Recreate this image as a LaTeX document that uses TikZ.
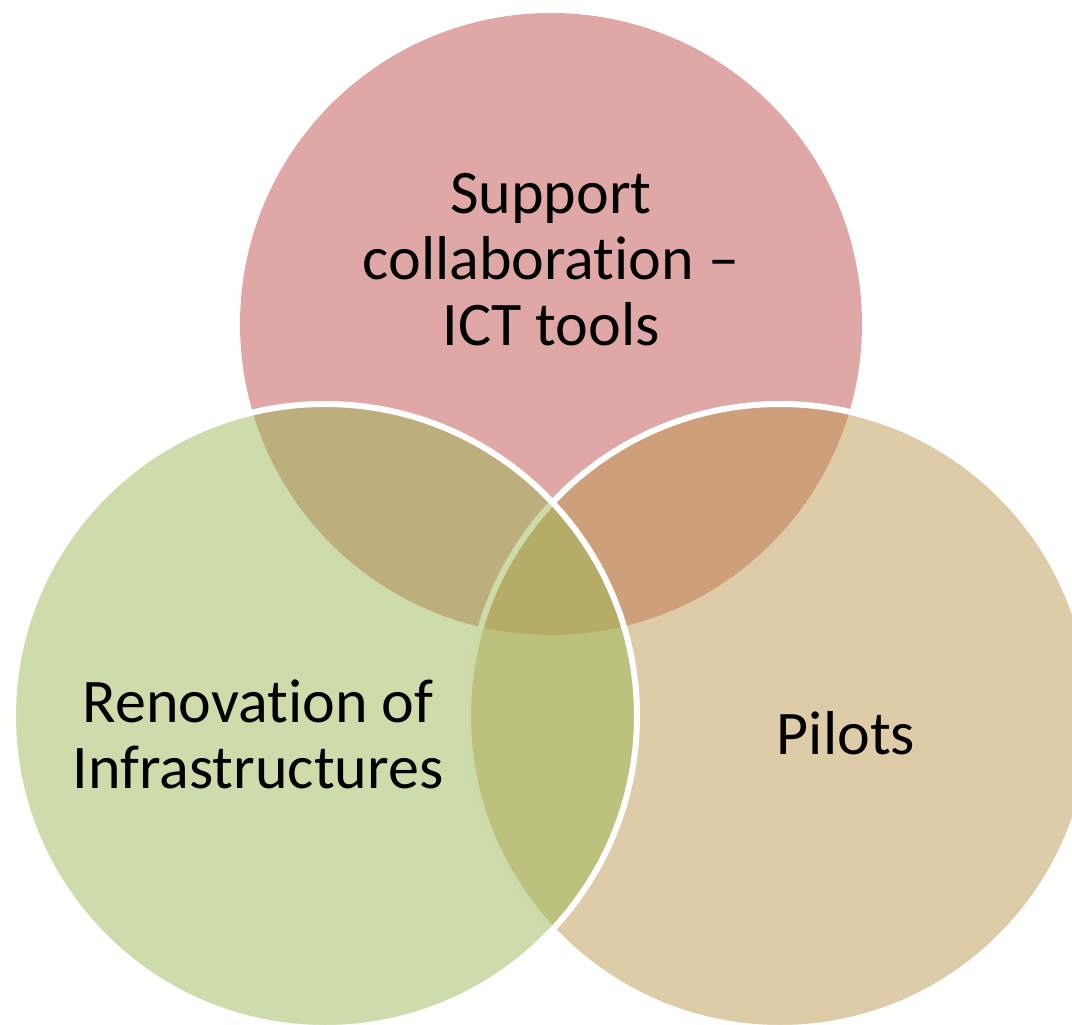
\documentclass[tikz,border=0pt]{standalone}
\usepackage{fontspec}
\setmainfont[Ligatures={NoCommon,NoRequired,NoContextual,NoRare}]{Carlito}
\definecolor{pinkbase}{RGB}{193,79,79}
\definecolor{tanbase}{RGB}{189,153,81}
\definecolor{greenbase}{RGB}{155,185,85}
\begin{document}
\begin{tikzpicture}[x=1pt,y=-1pt,
  venn/.style={fill opacity=0.5, draw=white, draw opacity=1, line width=6pt},
  lbl/.style={inner sep=0pt, align=center, text=black, font={\fontsize{62}{66}\selectfont}}]
\useasboundingbox (0,0) rectangle (1072,1025);
\clip (0,0) rectangle (1072,1025);
\fill[pinkbase, fill opacity=0.5] (551,324) circle (311pt);
\filldraw[venn, fill=tanbase] (780,716) circle (312pt);
\filldraw[venn, fill=greenbase] (325,716) circle (312pt);
\node[lbl] (ict) at (551,265.8) {\strut Support\\collaborat\kern0pt ion –\\ICT tools\strut};
\node[lbl] (reno) at (258,741.8) {\strut Renovat\kern0pt ion of\\Infrastructures\strut};
\node[lbl] (pilots) at (846,740.8) {\strut Pilots};
\end{tikzpicture}
\end{document}
